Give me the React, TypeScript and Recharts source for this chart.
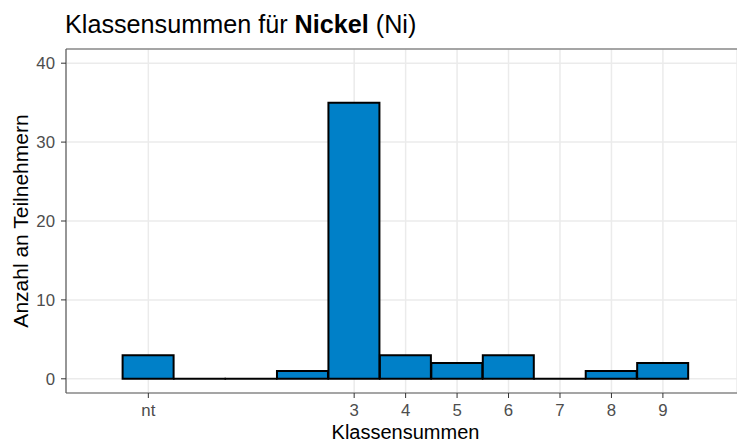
import React from "react";
import {
  BarChart,
  Bar,
  XAxis,
  YAxis,
  CartesianGrid,
  ReferenceLine,
} from "recharts";

// Class sums (nt = not tested, plotted at -1)
const classValues = [-1, 0, 1, 2, 3, 4, 5, 6, 7, 8, 9];
const participantCounts = [3, 0, 0, 1, 35, 3, 2, 3, 0, 1, 2];
const xTickValues = [-1, 3, 4, 5, 6, 7, 8, 9];
const xTickLabels = ["nt", "3", "4", "5", "6", "7", "8", "9"];
const yTickValues = [0, 10, 20, 30, 40];

const data = classValues.map((x, i) => ({ x, n: participantCounts[i] }));

const FONT = "'Liberation Sans', Arial, sans-serif";
const BORDER = "#5a5a5a";

const HistBar = (props: any) => {
  const { x, y, width, height, fill } = props;
  if (x == null || y == null || width == null) return null;
  const h = Number.isFinite(height) ? Math.abs(height) : 0;
  const top = height < 0 ? y + height : y;
  if (h < 0.5) {
    return (
      <line
        x1={x}
        x2={x + width}
        y1={top}
        y2={top}
        stroke="#000"
        strokeWidth={2}
        strokeLinecap="square"
      />
    );
  }
  return (
    <path
      d={`M${x},${top}h${width}v${h}h${-width}Z`}
      fill={fill}
      stroke="#000"
      strokeWidth={2}
    />
  );
};

const fmtX = (v: number) => {
  const i = xTickValues.indexOf(v);
  return i >= 0 ? xTickLabels[i] : String(v);
};

export default function App() {
  return (
    <div
      style={{
        position: "absolute",
        left: 0,
        top: 0,
        width: 737,
        height: 443,
        background: "#fff",
        overflow: "hidden",
      }}
    >
      <BarChart
        width={737}
        height={443}
        data={data}
        margin={{ top: 49, right: 0, bottom: 0, left: 0 }}
        barCategoryGap={0}
        barGap={0}
      >
        <CartesianGrid stroke="#EBEBEB" strokeWidth={1.5} />
        <XAxis
          dataKey="x"
          type="number"
          domain={[-2.6, 10.44]}
          allowDataOverflow
          ticks={xTickValues}
          interval={0}
          tickFormatter={fmtX}
          height={50}
          tickSize={5}
          tickMargin={6}
          axisLine={{ stroke: BORDER, strokeWidth: 1.2 }}
          tickLine={{ stroke: "#333" }}
          tick={{ fill: "#4D4D4D", fontSize: 16.8, fontFamily: FONT }}
        />
        <YAxis
          type="number"
          domain={[-1.8, 41.8]}
          allowDataOverflow
          ticks={yTickValues}
          interval={0}
          width={66}
          tickSize={5}
          tickMargin={6}
          axisLine={{ stroke: BORDER, strokeWidth: 1.2 }}
          tickLine={{ stroke: "#333" }}
          tick={{ fill: "#4D4D4D", fontSize: 16.8, fontFamily: FONT }}
        />
        <ReferenceLine y={41.8} stroke={BORDER} strokeWidth={1.2} />
        <Bar
          dataKey="n"
          fill="#0080C8"
          isAnimationActive={false}
          shape={HistBar}
        />
      </BarChart>
      <svg
        width={737}
        height={443}
        style={{ position: "absolute", left: 0, top: 0, pointerEvents: "none" }}
      >
        <text x={65} y={33} fontSize={25.2} fontFamily={FONT} fill="#000">
          {"Klassensummen für "}
          <tspan fontWeight="bold">Nickel</tspan>
          {" (Ni)"}
        </text>
        <text
          x={405.5}
          y={438.7}
          fontSize={20}
          fontFamily={FONT}
          fill="#000"
          textAnchor="middle"
        >
          Klassensummen
        </text>
        <text
          x={28}
          y={221}
          fontSize={21}
          fontFamily={FONT}
          fill="#000"
          textAnchor="middle"
          transform="rotate(-90, 28, 221)"
        >
          Anzahl an Teilnehmern
        </text>
      </svg>
    </div>
  );
}
